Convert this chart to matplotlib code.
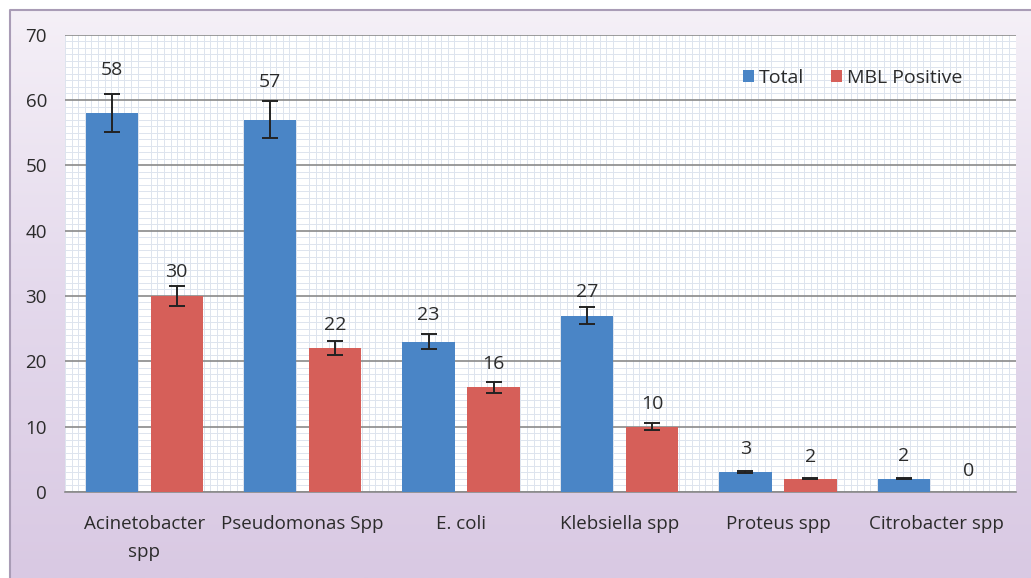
import numpy as np
import matplotlib.pyplot as plt
from matplotlib.ticker import MultipleLocator
from matplotlib.colors import LinearSegmentedColormap

# data
categories = ['Acinetobacter\nspp', 'Pseudomonas Spp', 'E. coli', 'Klebsiella spp', 'Proteus spp', 'Citrobacter spp']
total = [58, 57, 23, 27, 3, 2]
mbl_positive = [30, 22, 16, 10, 2, 0]
total_err = [2.9, 2.85, 1.15, 1.35, 0.15, 0.1]
mbl_err = [1.5, 1.1, 0.8, 0.5, 0.1, 0.0]
yticks = [0, 10, 20, 30, 40, 50, 60, 70]

plt.rcParams['font.family'] = ['Open Sans', 'DejaVu Sans']
txt_color = '#2b2b2b'

fig = plt.figure(figsize=(10.31, 5.78), dpi=100)

# chart area background: soft lavender gradient with a thin frame on the left/top
bg = fig.add_axes([0, 0, 1, 1], zorder=-10)
grad = np.linspace(0, 1, 256).reshape(-1, 1)
cmap = LinearSegmentedColormap.from_list('lav', ['#f5f0f7', '#e4d9ec', '#d9c9e3'])
bg.imshow(grad, aspect='auto', cmap=cmap, extent=[0.01, 1.0, 0.0, 0.983])
bg.set_xlim(0, 1)
bg.set_ylim(0, 1)
bg.plot([0.01, 0.01, 1.0], [0.0, 0.983, 0.983], color='#a99cb6', lw=1.5)
bg.axis('off')

ax = fig.add_axes([0.063, 0.149, 0.922, 0.791])
ax.set_facecolor('white')

x = np.arange(len(categories))
w = 0.33
off = 0.205
ax.bar(x - off, total, w, color='#4a85c6', label='Total', zorder=3)
ax.bar(x + off, mbl_positive, w, color='#d65f59', label='MBL Positive', zorder=3)

ekw = dict(fmt='none', ecolor='#222222', elinewidth=1.4, capsize=6, capthick=1.4, zorder=4)
ax.errorbar(x - off, total, yerr=total_err, **ekw)
m = np.array(mbl_err) > 0
ax.errorbar((x + off)[m], np.array(mbl_positive)[m], yerr=np.array(mbl_err)[m], **ekw)

# value labels sit above the bar top (points); the two tall ones were nudged higher
pad_total = [31, 27, 19, 17, 16.5, 16.5]
pad_mbl = [17, 17, 16.5, 16, 16, 15]
for xi, v, p in zip(x - off, total, pad_total):
    ax.annotate(str(v), (xi, v), xytext=(0, p), textcoords='offset points',
                ha='center', va='center', fontsize=14, color=txt_color)
for xi, v, p in zip(x + off, mbl_positive, pad_mbl):
    ax.annotate(str(v), (xi, v), xytext=(0, p), textcoords='offset points',
                ha='center', va='center', fontsize=14, color=txt_color)

ax.set_xlim(-0.5, len(categories) - 0.5)
ax.set_ylim(0, 70)
ax.set_yticks(yticks)
ax.set_xticks(x)
ax.set_xticklabels(categories, fontsize=13.5, color=txt_color, linespacing=1.65)
ax.tick_params(axis='y', labelsize=13.5, labelcolor=txt_color, length=0, pad=13)
ax.tick_params(axis='x', length=0, pad=17)

# graph-paper style grid
ax.yaxis.set_minor_locator(MultipleLocator(1))
ax.xaxis.set_minor_locator(MultipleLocator(1 / 24))
ax.grid(which='minor', axis='both', color='#dde4ee', lw=0.7, zorder=0)
ax.grid(which='major', axis='y', color='#8a8a8a', lw=1.2, zorder=1)
ax.tick_params(which='minor', length=0)

for s in ['top', 'right', 'left']:
    ax.spines[s].set_visible(False)
ax.spines['bottom'].set_color('#8a8a8a')
ax.spines['bottom'].set_linewidth(1.2)

leg = ax.legend(loc='center left', bbox_to_anchor=(0.695, 0.905), ncol=2, frameon=False,
                fontsize=14, handlelength=0.55, handleheight=0.55, columnspacing=1.4, handletextpad=0.25)
for t in leg.get_texts():
    t.set_color(txt_color)

fig.savefig('out.png', dpi=100)
